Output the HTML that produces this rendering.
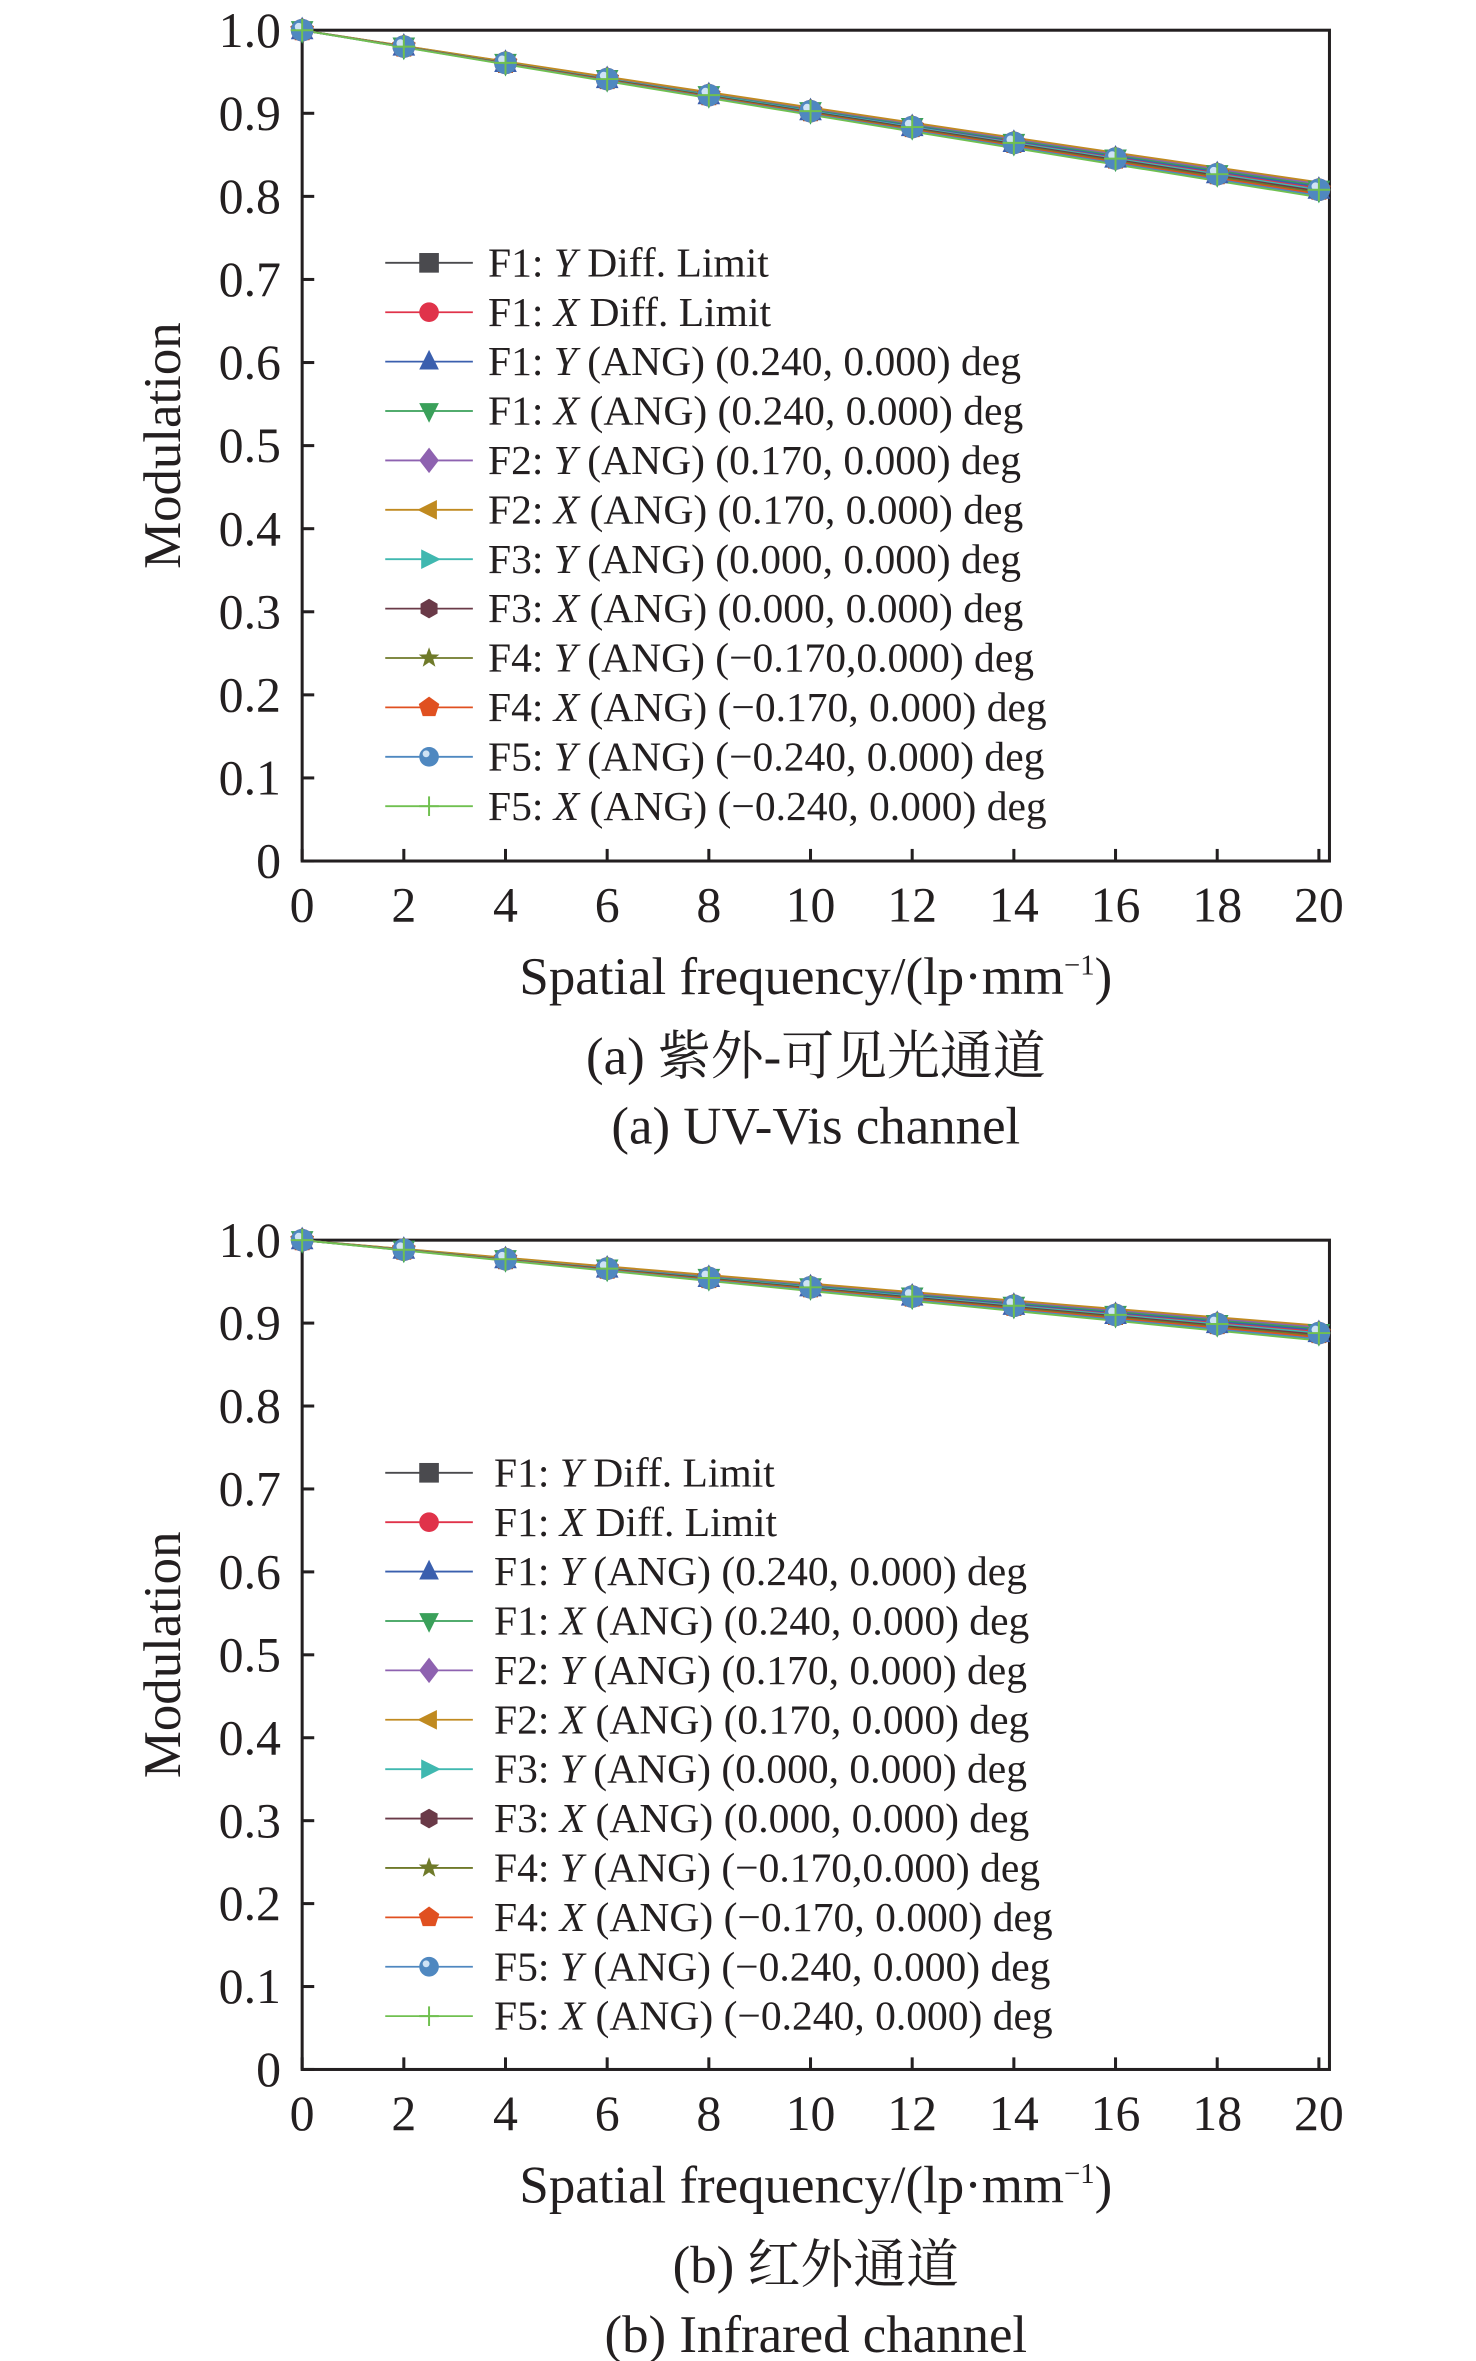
<!DOCTYPE html>
<html><head><meta charset="utf-8"><style>
html,body{margin:0;padding:0;background:#fff;}
svg{display:block;}
text{font-family:"Liberation Serif","Noto Serif CJK SC",serif;fill:#231f20;}
</style></head><body>
<svg id="s" width="1476" height="2361" viewBox="0 0 977 1563" preserveAspectRatio="none" xmlns="http://www.w3.org/2000/svg"></svg>
<script>
const s=document.getElementById('s');let h='';
const cols=['#4a4a4e','#e0334a','#3a5fae','#3aa05a','#8e62b0','#c08a20','#40b8b0','#6a3a48','#6f7a2a','#e05020','#4f88c0','#70c050'];
const names=[['F1: ','Y',' Diff. Limit'],['F1: ','X',' Diff. Limit'],['F1: ','Y',' (ANG) (0.240, 0.000) deg'],['F1: ','X',' (ANG) (0.240, 0.000) deg'],['F2: ','Y',' (ANG) (0.170, 0.000) deg'],['F2: ','X',' (ANG) (0.170, 0.000) deg'],['F3: ','Y',' (ANG) (0.000, 0.000) deg'],['F3: ','X',' (ANG) (0.000, 0.000) deg'],['F4: ','Y',' (ANG) (\u22120.170,0.000) deg'],['F4: ','X',' (ANG) (\u22120.170, 0.000) deg'],['F5: ','Y',' (ANG) (\u22120.240, 0.000) deg'],['F5: ','X',' (ANG) (\u22120.240, 0.000) deg']];
function mk(i,x,y,r){const c=cols[i];
switch(i){case 0:return `<rect x="${x-r}" y="${y-r}" width="${2*r}" height="${2*r}" fill="${c}"/>`;
case 1:return `<circle cx="${x}" cy="${y}" r="${r}" fill="${c}"/>`;
case 2:return `<polygon points="${x},${y-r*1.2} ${x-r},${y+r*.8} ${x+r},${y+r*.8}" fill="${c}"/>`;
case 3:return `<polygon points="${x},${y+r*1.2} ${x-r},${y-r*.8} ${x+r},${y-r*.8}" fill="${c}"/>`;
case 4:return `<polygon points="${x},${y-r*1.3} ${x+r},${y} ${x},${y+r*1.3} ${x-r},${y}" fill="${c}"/>`;
case 5:return `<polygon points="${x-r*1.2},${y} ${x+r*.8},${y-r} ${x+r*.8},${y+r}" fill="${c}"/>`;
case 6:return `<polygon points="${x+r*1.2},${y} ${x-r*.8},${y-r} ${x-r*.8},${y+r}" fill="${c}"/>`;
case 7:{let p=[];for(let k=0;k<6;k++){const a=Math.PI/3*k+Math.PI/6;p.push((x+r*Math.cos(a))+','+(y+r*Math.sin(a)));}return `<polygon points="${p.join(' ')}" fill="${c}"/>`;}
case 8:{let p=[];for(let k=0;k<10;k++){const a=-Math.PI/2+Math.PI/5*k,rr=k%2?r*.45:r*1.1;p.push((x+rr*Math.cos(a))+','+(y+rr*Math.sin(a)));}return `<polygon points="${p.join(' ')}" fill="${c}"/>`;}
case 9:{let p=[];for(let k=0;k<5;k++){const a=-Math.PI/2+2*Math.PI/5*k;p.push((x+r*1.1*Math.cos(a))+','+(y+r*1.1*Math.sin(a)));}return `<polygon points="${p.join(' ')}" fill="${c}"/>`;}
case 10:return `<circle cx="${x}" cy="${y}" r="${r}" fill="${c}"/><circle cx="${x-r*.3}" cy="${y-r*.3}" r="${r*.35}" fill="#cfe3f5"/>`;
case 11:return `<path d="M${x-r} ${y}H${x+r}M${x} ${y-r}V${y+r}" stroke="${c}" stroke-width="1.3"/>`;}}
function panel(top,bot,endv,legTop,legX,cap1,cap2){
const x0=200,x1=873,xr=880;
const Y=v=>bot-(bot-top)*v, X=f=>x0+(x1-x0)*f/20;
h+=`<rect x="${x0}" y="${top}" width="${xr-x0}" height="${bot-top}" fill="none" stroke="#231f20" stroke-width="2"/>`;
for(let i=0;i<=10;i++){const y=Y(i/10);h+=`<line x1="${x0}" y1="${y}" x2="${x0+8}" y2="${y}" stroke="#231f20" stroke-width="2"/>`;
h+=`<text x="${186}" y="${y+11}" font-size="33" text-anchor="end">${i==0?'0':(i/10).toFixed(1)}</text>`;}
for(let f=0;f<=20;f+=2){const x=X(f);h+=`<line x1="${x}" y1="${bot}" x2="${x}" y2="${bot-8}" stroke="#231f20" stroke-width="2"/>`;
h+=`<text x="${x}" y="${bot+40}" font-size="33" text-anchor="middle">${f}</text>`;}
h+=`<text transform="translate(119 ${(top+bot)/2}) rotate(-90)" font-size="35" text-anchor="middle">Modulation</text>`;
h+=`<text x="540" y="${bot+88}" font-size="35" text-anchor="middle">Spatial frequency/(lp·mm<tspan font-size="19" dy="-13">−1</tspan><tspan dy="13">)</tspan></text>`;
h+=`<text x="540" y="${bot+141}" font-size="35" text-anchor="middle">${cap1}</text>`;
h+=`<text x="540" y="${bot+187}" font-size="35" text-anchor="middle">${cap2}</text>`;
for(let i=0;i<12;i++){const d=(i%6)*0.0018*(i<6?-1:1);let pts=[];
for(let f=0;f<=20;f+=1){const t=f/20;pts.push(X(f)+','+Y(1-(1-endv)*t*(1+0.03*(1-t))-d*t));}
h+=`<polyline points="${pts.join(' ')}" fill="none" stroke="${cols[i]}" stroke-width="1.2"/>`;}
for(let f=0;f<=20;f+=2){const t=f/20;for(let i of [3,9,2,8,1,10,11]){const y=Y(1-(1-endv)*t*(1+0.03*(1-t)));h+=mk(i,X(f),y,7.5);}}
for(let i=0;i<12;i++){const y=legTop+i*32.7;
h+=`<line x1="255" y1="${y}" x2="313" y2="${y}" stroke="${cols[i]}" stroke-width="1.2"/>`+mk(i,284,y,6.5);
h+=`<text x="${legX}" y="${y+9}" font-size="27.5">${names[i][0]}<tspan font-style="italic">${names[i][1]}</tspan>${names[i][2]}</text>`;}
}
panel(20,570,0.808,174,323,'(a) 紫外-可见光通道','(a) UV-Vis channel');
panel(821,1370,0.888,975,327,'(b) 红外通道','(b) Infrared channel');
s.innerHTML=h;
</script>
</body></html>
